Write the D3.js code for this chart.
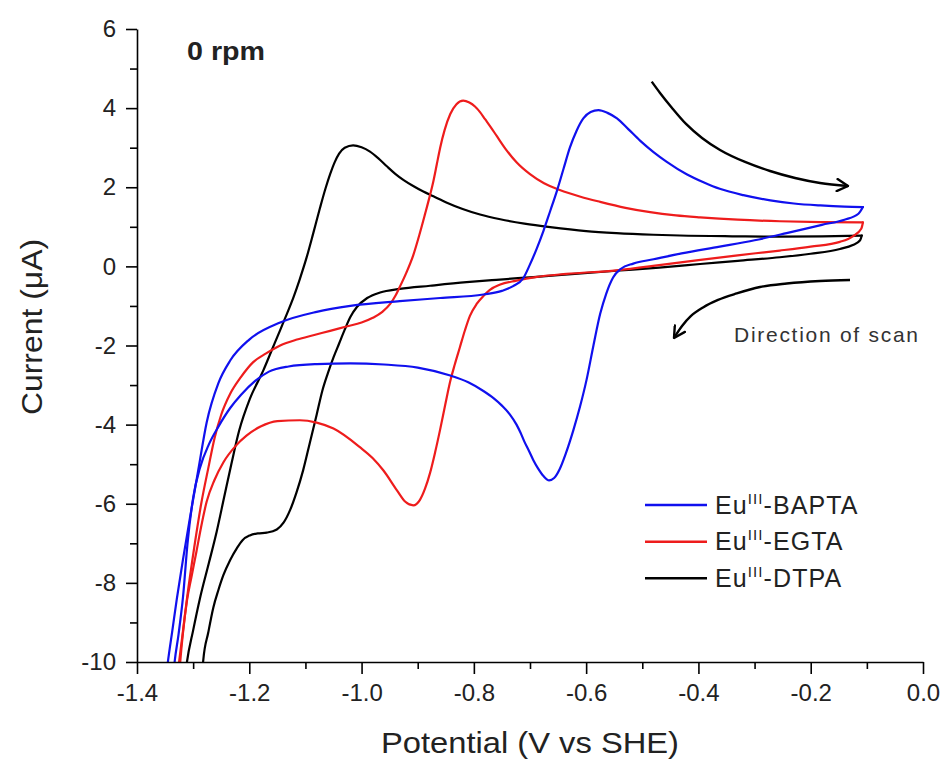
<!DOCTYPE html>
<html>
<head>
<meta charset="utf-8">
<script src="https://cdn.jsdelivr.net/npm/d3@7/dist/d3.min.js"></script>
<style>
  html, body { margin: 0; padding: 0; background: #fff; }
  svg { display: block; }
  text { font-family: "Liberation Sans", Arial, sans-serif; }
</style>
</head>
<body>
<svg id="chart" width="947" height="761"></svg>
<script>
// ---------------- DATA ----------------
const xTicks = [-1.4, -1.2, -1.0, -0.8, -0.6, -0.4, -0.2, 0.0];
const xMinorTicks = [-1.3, -1.1, -0.9, -0.7, -0.5, -0.3, -0.1];
const yTicks = [-10, -8, -6, -4, -2, 0, 2, 4, 6];
const yMinorTicks = [-9, -7, -5, -3, -1, 1, 3, 5];

const seriesNames = ["BAPTA", "EGTA", "DTPA"];

// Eu(III)-BAPTA — cathodic sweep (right -> left)
const baptaCathE = [-0.107,-0.115,-0.140,-0.180,-0.243,-0.300,-0.362,-0.430,-0.480,-0.516,-0.538,-0.552,-0.564,-0.575,-0.587,-0.599,-0.611,-0.623,-0.636,-0.647,-0.657,-0.666,-0.676,-0.686,-0.694,-0.702,-0.710,-0.717,-0.724,-0.736,-0.750,-0.765,-0.783,-0.810,-0.842,-0.900,-0.960,-1.020,-1.080,-1.130,-1.165,-1.190,-1.215,-1.234,-1.255,-1.272,-1.288,-1.300,-1.310,-1.318,-1.326,-1.333,-1.337];
const baptaCathI = [1.50,1.33,1.18,1.05,0.84,0.66,0.50,0.33,0.18,0.07,-0.06,-0.28,-0.68,-1.20,-2.00,-2.85,-3.55,-4.15,-4.72,-5.12,-5.35,-5.41,-5.30,-5.10,-4.90,-4.66,-4.43,-4.20,-4.00,-3.74,-3.52,-3.33,-3.15,-2.93,-2.76,-2.56,-2.48,-2.45,-2.47,-2.53,-2.66,-2.90,-3.25,-3.58,-4.05,-4.50,-5.10,-5.85,-7.00,-8.35,-9.30,-10.00,-10.60];
// Eu(III)-BAPTA — anodic return sweep (left -> right)
const baptaAnE = [-1.350,-1.345,-1.337,-1.329,-1.318,-1.305,-1.291,-1.276,-1.255,-1.234,-1.200,-1.145,-1.080,-1.020,-0.932,-0.860,-0.783,-0.750,-0.730,-0.712,-0.700,-0.688,-0.676,-0.664,-0.652,-0.640,-0.629,-0.617,-0.605,-0.592,-0.578,-0.562,-0.545,-0.525,-0.504,-0.480,-0.457,-0.421,-0.390,-0.362,-0.320,-0.272,-0.230,-0.183,-0.140,-0.107];
const baptaAnI = [-10.60,-10.00,-9.20,-8.40,-7.40,-6.30,-5.16,-3.95,-2.95,-2.38,-1.85,-1.42,-1.15,-1.00,-0.88,-0.80,-0.71,-0.62,-0.50,-0.30,0.05,0.45,0.90,1.40,1.91,2.48,3.00,3.43,3.74,3.90,3.95,3.88,3.74,3.47,3.18,2.89,2.65,2.33,2.12,1.96,1.80,1.67,1.59,1.54,1.51,1.50];

// Eu(III)-EGTA
const egtaCathE = [-0.107,-0.110,-0.125,-0.148,-0.200,-0.255,-0.330,-0.400,-0.470,-0.546,-0.635,-0.690,-0.724,-0.753,-0.772,-0.783,-0.795,-0.807,-0.816,-0.825,-0.834,-0.842,-0.851,-0.860,-0.869,-0.878,-0.887,-0.896,-0.908,-0.922,-0.937,-0.961,-0.980,-1.003,-1.050,-1.080,-1.110,-1.150,-1.180,-1.205,-1.225,-1.246,-1.262,-1.276,-1.286,-1.294,-1.303,-1.311,-1.318,-1.323,-1.326];
const egtaCathI = [1.11,0.95,0.76,0.62,0.50,0.40,0.28,0.16,0.03,-0.10,-0.19,-0.27,-0.36,-0.46,-0.60,-0.75,-0.95,-1.25,-1.62,-2.05,-2.48,-2.90,-3.50,-4.12,-4.70,-5.22,-5.62,-5.90,-6.04,-5.95,-5.66,-5.16,-4.85,-4.57,-4.10,-3.95,-3.89,-3.91,-4.05,-4.28,-4.55,-4.95,-5.40,-5.95,-6.60,-7.20,-7.85,-8.45,-9.25,-10.00,-10.60];
const egtaAnE = [-1.330,-1.325,-1.318,-1.311,-1.298,-1.285,-1.273,-1.262,-1.250,-1.234,-1.215,-1.193,-1.170,-1.145,-1.115,-1.086,-1.056,-1.027,-1.000,-0.980,-0.963,-0.949,-0.940,-0.932,-0.920,-0.908,-0.897,-0.887,-0.879,-0.872,-0.866,-0.860,-0.852,-0.842,-0.831,-0.819,-0.808,-0.798,-0.789,-0.780,-0.770,-0.759,-0.742,-0.724,-0.700,-0.675,-0.647,-0.610,-0.575,-0.530,-0.486,-0.440,-0.397,-0.330,-0.255,-0.180,-0.107];
const egtaAnI = [-10.60,-10.00,-9.20,-8.40,-7.10,-5.95,-5.10,-4.35,-3.75,-3.22,-2.80,-2.42,-2.20,-2.00,-1.85,-1.74,-1.63,-1.52,-1.42,-1.30,-1.15,-0.95,-0.75,-0.52,-0.15,0.28,0.80,1.32,1.75,2.16,2.58,3.00,3.45,3.85,4.10,4.19,4.14,4.04,3.90,3.72,3.52,3.29,2.94,2.63,2.33,2.10,1.93,1.76,1.63,1.48,1.37,1.29,1.24,1.18,1.14,1.12,1.11];

// Eu(III)-DTPA
const dtpaCathE = [-0.109,-0.112,-0.125,-0.148,-0.200,-0.255,-0.330,-0.397,-0.470,-0.546,-0.620,-0.694,-0.760,-0.813,-0.878,-0.932,-0.967,-0.990,-1.008,-1.020,-1.030,-1.040,-1.050,-1.060,-1.070,-1.080,-1.092,-1.104,-1.116,-1.127,-1.139,-1.151,-1.169,-1.185,-1.199,-1.212,-1.222,-1.234,-1.246,-1.255,-1.264,-1.273,-1.282,-1.285];
const dtpaCathI = [0.78,0.66,0.54,0.44,0.32,0.23,0.14,0.06,-0.03,-0.11,-0.19,-0.27,-0.34,-0.40,-0.49,-0.57,-0.66,-0.80,-1.02,-1.28,-1.60,-1.95,-2.30,-2.70,-3.15,-3.75,-4.45,-5.15,-5.72,-6.15,-6.48,-6.65,-6.73,-6.75,-6.80,-6.92,-7.12,-7.42,-7.80,-8.18,-8.62,-9.25,-9.96,-10.60];
const dtpaAnE = [-1.316,-1.311,-1.300,-1.288,-1.272,-1.258,-1.245,-1.232,-1.218,-1.199,-1.175,-1.160,-1.145,-1.133,-1.121,-1.110,-1.098,-1.086,-1.074,-1.064,-1.056,-1.048,-1.040,-1.030,-1.015,-1.000,-0.985,-0.970,-0.955,-0.940,-0.925,-0.908,-0.890,-0.872,-0.848,-0.820,-0.789,-0.753,-0.710,-0.664,-0.600,-0.546,-0.480,-0.433,-0.340,-0.255,-0.180,-0.109];
const dtpaAnI = [-10.60,-10.00,-9.20,-8.40,-7.50,-6.70,-5.85,-5.00,-4.15,-3.35,-2.63,-2.12,-1.61,-1.20,-0.77,-0.32,0.22,0.84,1.48,1.98,2.33,2.63,2.85,3.00,3.06,3.01,2.90,2.73,2.53,2.34,2.18,2.03,1.89,1.77,1.61,1.45,1.31,1.19,1.08,0.99,0.89,0.84,0.80,0.78,0.76,0.75,0.76,0.78];

// scan-direction arrows (data units)
const arrowTopE = [-0.4832,-0.4684,-0.4470,-0.4221,-0.3936,-0.3615,-0.3170,-0.2725,-0.2279,-0.1834,-0.1335];
const arrowTopI = [4.669,4.383,4.004,3.600,3.246,2.942,2.639,2.411,2.234,2.108,2.032];
const arrowBotE = [-0.130,-0.1834,-0.2427,-0.2903,-0.3318,-0.3651,-0.3918,-0.4132,-0.4292,-0.4435];
const arrowBotI = [-0.344,-0.369,-0.432,-0.521,-0.685,-0.849,-1.039,-1.254,-1.507,-1.810];

// ---------------- CHART ----------------
const svg = d3.select("#chart");
const W = 947, H = 761;
const m = {left: 137, right: 24, top: 29, bottom: 99};
const x = d3.scaleLinear().domain([-1.4, 0]).range([m.left, W - m.right]);
const y = d3.scaleLinear().domain([-10, 6]).range([H - m.bottom, m.top]);

const colors = {BAPTA: "#1010ee", EGTA: "#ee1c1c", DTPA: "#000000"};
const zip = (a, b) => a.map((v, i) => [v, b[i]]);
const branches = {
  BAPTA: [zip(baptaCathE, baptaCathI), zip(baptaAnE, baptaAnI)],
  EGTA: [zip(egtaCathE, egtaCathI), zip(egtaAnE, egtaAnI)],
  DTPA: [zip(dtpaCathE, dtpaCathI), zip(dtpaAnE, dtpaAnI)]
};

const defs = svg.append("defs");
defs.append("clipPath").attr("id", "clip")
  .append("rect").attr("x", x(-1.4)).attr("y", y(6) - 10)
  .attr("width", x(0) - x(-1.4) + 5).attr("height", y(-10) - y(6) + 10);

defs.append("marker").attr("id", "arrow")
  .attr("viewBox", "0 0 14 14").attr("refX", 12.5).attr("refY", 7)
  .attr("markerWidth", 14).attr("markerHeight", 14)
  .attr("markerUnits", "userSpaceOnUse").attr("orient", "auto")
  .append("path").attr("d", "M1.5,1 L12.5,7 L1.5,13")
  .attr("fill", "none").attr("stroke", "#000").attr("stroke-width", 2.4)
  .attr("stroke-linecap", "round").attr("stroke-linejoin", "round");

const line = d3.line().x(d => x(d[0])).y(d => y(d[1])).curve(d3.curveMonotoneX);

const gCurves = svg.append("g").attr("clip-path", "url(#clip)");
["DTPA", "EGTA", "BAPTA"].forEach(k => {
  branches[k].forEach(br => {
    gCurves.append("path").datum(br).attr("d", line)
      .attr("fill", "none").attr("stroke", colors[k]).attr("stroke-width", 2.2)
      .attr("stroke-linejoin", "round").attr("stroke-linecap", "round");
  });
});

// axes
const fmtX = d => d.toFixed(1);
const fmtY = d => String(d);
const gx = svg.append("g").attr("transform", `translate(0,${y(-10)})`);
gx.call(d3.axisBottom(x).tickValues(xTicks).tickFormat(fmtX).tickSize(12).tickSizeOuter(0).tickPadding(10));
const gxm = svg.append("g").attr("transform", `translate(0,${y(-10)})`);
gxm.call(d3.axisBottom(x).tickValues(xMinorTicks).tickFormat("").tickSize(7).tickSizeOuter(0));
gxm.select(".domain").remove();

const gy = svg.append("g").attr("transform", `translate(${x(-1.4)},0)`);
gy.call(d3.axisLeft(y).tickValues(yTicks).tickFormat(fmtY).tickSize(11).tickSizeOuter(0).tickPadding(10));
const gym = svg.append("g").attr("transform", `translate(${x(-1.4)},0)`);
gym.call(d3.axisLeft(y).tickValues(yMinorTicks).tickFormat("").tickSize(7).tickSizeOuter(0));
gym.select(".domain").remove();

svg.selectAll(".domain, .tick line").attr("stroke", "#000").attr("stroke-width", 1.6);
gx.selectAll("text").attr("font-size", 24).attr("fill", "#222").attr("font-family", "Liberation Sans, Arial, sans-serif");
gy.selectAll("text").attr("font-size", 24).attr("fill", "#222").attr("font-family", "Liberation Sans, Arial, sans-serif");

// axis titles
svg.append("text").attr("x", (x(-1.4) + x(0)) / 2).attr("y", 753)
  .attr("text-anchor", "middle").attr("font-size", 30).attr("fill", "#222")
  .attr("textLength", 298).attr("lengthAdjust", "spacingAndGlyphs")
  .text("Potential (V vs SHE)");
svg.append("text").attr("transform", `translate(42,327) rotate(-90)`)
  .attr("text-anchor", "middle").attr("font-size", 30).attr("fill", "#222")
  .attr("textLength", 176).attr("lengthAdjust", "spacingAndGlyphs")
  .text("Current (\u03bcA)");

// 0 rpm
svg.append("text").attr("x", 187).attr("y", 60).attr("font-size", 25)
  .attr("font-weight", "bold").attr("fill", "#222")
  .attr("textLength", 78).attr("lengthAdjust", "spacingAndGlyphs").text("0 rpm");

// arrows
const aline = d3.line().x(d => x(d[0])).y(d => y(d[1])).curve(d3.curveMonotoneX);
svg.append("path").datum(zip(arrowTopE, arrowTopI)).attr("d", aline)
  .attr("fill", "none").attr("stroke", "#000").attr("stroke-width", 2.4).attr("marker-end", "url(#arrow)");
svg.append("path").datum(zip(arrowBotE, arrowBotI)).attr("d", aline)
  .attr("fill", "none").attr("stroke", "#000").attr("stroke-width", 2.4).attr("marker-end", "url(#arrow)");

svg.append("text").attr("x", 734).attr("y", 342).attr("font-size", 21).attr("fill", "#333")
  .attr("textLength", 184).attr("lengthAdjust", "spacing").text("Direction of scan");

// legend
const legY = [505, 541.7, 578.3];
seriesNames.forEach((k, i) => {
  svg.append("line").attr("x1", 645).attr("x2", 707).attr("y1", legY[i]).attr("y2", legY[i])
    .attr("stroke", colors[k]).attr("stroke-width", 2.6);
  const t = svg.append("text").attr("x", 715).attr("y", legY[i] + 8.5)
    .attr("font-size", 25).attr("fill", "#222").attr("letter-spacing", 1.1);
  t.append("tspan").text("Eu");
  t.append("tspan").attr("font-size", 15).attr("dy", -10).text("III");
  t.append("tspan").attr("dy", 10).text("-" + k);
});
</script>
</body>
</html>
